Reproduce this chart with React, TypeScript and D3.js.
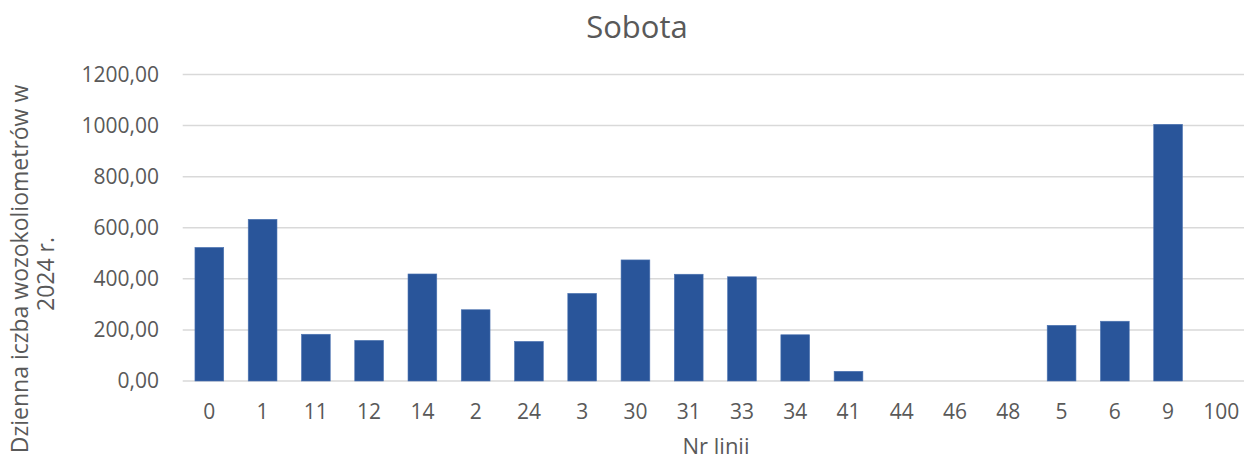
import React from "react";
import * as d3 from "d3";

const categories = ["0", "1", "11", "12", "14", "2", "24", "3", "30", "31", "33", "34", "41", "44", "46", "48", "5", "6", "9", "100"];
const values = [523, 633, 183, 159, 419, 279, 155, 343, 474, 418, 408, 181, 38, 0, 0, 0, 218, 234, 1005, 0];
const yTicks = [0, 200, 400, 600, 800, 1000, 1200];
const title = "Sobota";
const yTitle1 = "Dzienna iczba wozokoliometrów w";
const yTitle2 = "2024 r.";
const xTitle = "Nr linii";

const W = 1244;
const H = 461;
const left = 182.7;
const right = 1248;
const top = 74.5;
const bottom = 381;
const font = "'Open Sans', sans-serif";
const textColor = "#595959";

export default function App() {
  const x = d3.scaleBand<string>().domain(categories).range([left, right]).paddingInner(0.46).paddingOuter(0.23);
  const y = d3.scaleLinear().domain([0, 1200]).range([bottom, top]);
  const fmt = (v: number) => v.toFixed(2).replace(".", ",");
  return (
    <div style={{ position: "absolute", left: 0, top: 0 }}>
      <svg width={W} height={H} style={{ display: "block", background: "#fff" }}>
        <text x={637} y={38} textAnchor="middle" fontFamily={font} fontSize={31} fill={textColor}>{title}</text>
        {yTicks.map((t) => (
          <g key={t}>
            <line x1={left} x2={right} y1={y(t)} y2={y(t)} stroke="#d9d9d9" strokeWidth={1.5} />
            <text x={159} y={y(t)} dy="0.35em" textAnchor="end" fontFamily={font} fontSize={21} fill={textColor}>{fmt(t)}</text>
          </g>
        ))}
        {categories.map((c, i) => (
          <rect key={c} x={x(c)} y={y(values[i])} width={x.bandwidth()} height={bottom - y(values[i])} fill="#29559a" stroke="#4d74b2" strokeWidth={0.6} />
        ))}
        {categories.map((c) => (
          <text key={c} x={(x(c) as number) + x.bandwidth() / 2} y={419} textAnchor="middle" fontFamily={font} fontSize={21} fill={textColor}>{c}</text>
        ))}
        <text x={716} y={454} textAnchor="middle" fontFamily={font} fontSize={22} fill={textColor}>{xTitle}</text>
        <text transform="translate(28,269) rotate(-90)" textAnchor="middle" fontFamily={font} fontSize={23} fill={textColor}>{yTitle1}</text>
        <text transform="translate(54,274) rotate(-90)" textAnchor="middle" fontFamily={font} fontSize={23} fill={textColor}>{yTitle2}</text>
      </svg>
    </div>
  );
}
